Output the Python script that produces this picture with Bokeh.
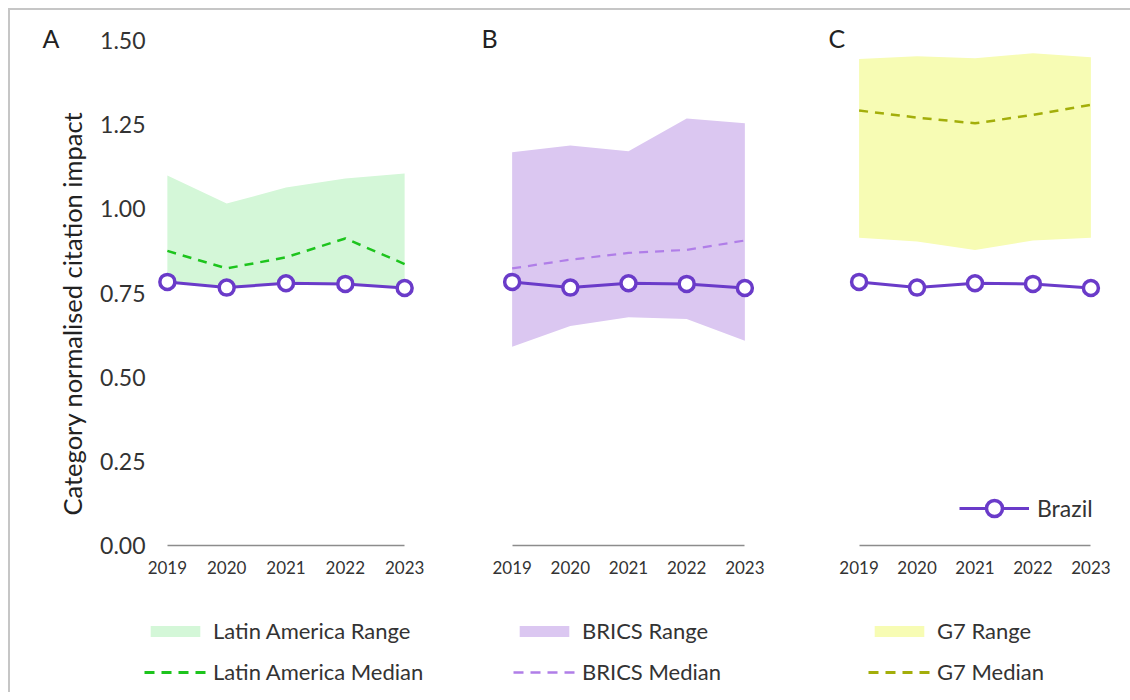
from bokeh.plotting import figure
from bokeh.layouts import row, column
from bokeh.models import (FixedTicker, Legend, LegendItem, Range1d,
                          NumeralTickFormatter, Title)
from bokeh.embed import file_html
from bokeh.resources import INLINE

# ---------------- data ----------------
years = [2019, 2020, 2021, 2022, 2023]
brazil = [0.783, 0.766, 0.779, 0.777, 0.765]

la_low = [0.780, 0.768, 0.778, 0.778, 0.765]
la_high = [1.099, 1.016, 1.063, 1.090, 1.105]
la_med = [0.875, 0.823, 0.856, 0.912, 0.836]

brics_low = [0.590, 0.652, 0.678, 0.673, 0.608]
brics_high = [1.168, 1.188, 1.171, 1.268, 1.254]
brics_med = [0.823, 0.849, 0.869, 0.878, 0.906]

g7_low = [0.914, 0.903, 0.878, 0.906, 0.914]
g7_high = [1.445, 1.453, 1.447, 1.462, 1.450]
g7_med = [1.292, 1.271, 1.254, 1.279, 1.309]

y_ticks = [0.0, 0.25, 0.5, 0.75, 1.0, 1.25, 1.5]
y_label = "Category normalised citation impact"
panel_letters = ["A", "B", "C"]
range_labels = ["Latin America Range", "BRICS Range", "G7 Range"]
median_labels = ["Latin America Median", "BRICS Median", "G7 Median"]

FONT = "Lato"
TXT = "#333333"
BRAZIL = "#6A3BC9"
FILLS = ["#D4F7D8", "#DBC7F1", "#F7FCB4"]
MED_COLORS = ["#1DC41D", "#B07EE8", "#A3AE0A"]
MED_WIDTHS = [2.5, 2.2, 2.5]
DASH = "9 7"


def panel(letter, letter_offset, width, mbl, mbr, low, high, med, fill,
          med_color, med_width, show_y=False, brazil_legend=False):
    p = figure(width=width, height=590,
               x_range=Range1d(2018.8, 2023.2), y_range=Range1d(0, 1.5),
               output_backend="svg", toolbar_location=None,
               min_border_left=mbl, min_border_right=mbr,
               min_border_top=30, min_border_bottom=55,
               y_axis_location="left" if show_y else None)
    p.outline_line_color = None
    p.xgrid.visible = False
    p.ygrid.visible = False
    p.border_fill_color = "white"

    p.title.text = letter
    p.title.align = "left"
    p.title.offset = letter_offset
    p.title.standoff = -25
    p.title.vertical_align = "bottom"
    p.title.text_font = FONT
    p.title.text_font_size = "25px"
    p.title.text_font_style = "normal"
    p.title.text_color = "#222222"

    xa = p.xaxis[0]
    xa.ticker = FixedTicker(ticks=years)
    xa.bounds = (2019, 2023)
    xa.axis_line_color = "#8c8c8c"
    xa.axis_line_width = 1.3
    xa.major_tick_line_color = None
    xa.minor_tick_line_color = None
    xa.major_tick_out = 0
    xa.minor_tick_out = 0
    xa.major_label_standoff = 15
    xa.major_label_text_font = FONT
    xa.major_label_text_font_size = "17px"
    xa.major_label_text_color = TXT

    if show_y:
        ya = p.yaxis[0]
        ya.ticker = FixedTicker(ticks=y_ticks)
        ya.formatter = NumeralTickFormatter(format="0.00")
        ya.axis_line_color = None
        ya.major_tick_line_color = None
        ya.minor_tick_line_color = None
        ya.major_tick_out = 0
        ya.minor_tick_out = 0
        ya.major_label_standoff = 10
        ya.major_label_text_font = FONT
        ya.major_label_text_font_size = "23px"
        ya.major_label_text_color = TXT
        # axis title, placed a little below the frame centre as in the source
        p.add_layout(Title(text=y_label, align="left", offset=30,
                           vertical_align="bottom", standoff=22,
                           text_font=FONT, text_font_size="25.5px",
                           text_font_style="normal", text_color="#222222"),
                     "left")

    p.varea(x=years, y1=low, y2=high, fill_color=fill, fill_alpha=1.0)
    p.line(x=years, y=med, line_color=med_color, line_width=med_width,
           line_dash=DASH)
    r_bl = p.line(x=years, y=brazil, line_color=BRAZIL, line_width=3)
    r_bm = p.scatter(x=years, y=brazil, size=15, marker="circle",
                     fill_color="white", line_color=BRAZIL, line_width=3.5)

    if brazil_legend:
        bl = Legend(items=[LegendItem(label="Brazil", renderers=[r_bl, r_bm])],
                    location=(112, 17), border_line_color=None,
                    background_fill_alpha=0, padding=0, margin=0,
                    glyph_width=70, glyph_height=40, label_height=40,
                    label_standoff=8, label_text_font=FONT,
                    label_text_font_size="23px", label_text_color=TXT)
        p.add_layout(bl)
    return p


pA = panel(panel_letters[0], -113, 431, 145, 25, la_low, la_high, la_med,
           FILLS[0], MED_COLORS[0], MED_WIDTHS[0], show_y=True)
pB = panel(panel_letters[1], -19, 350, 59, 35, brics_low, brics_high,
           brics_med, FILLS[1], MED_COLORS[1], MED_WIDTHS[1])
pC = panel(panel_letters[2], -19, 331, 56, 20, g7_low, g7_high, g7_med,
           FILLS[2], MED_COLORS[2], MED_WIDTHS[2], brazil_legend=True)

# ---------------- legend strip ----------------
lg = figure(width=1112, height=92, x_range=Range1d(0, 1), y_range=Range1d(0, 1),
            output_backend="svg", toolbar_location=None,
            x_axis_location=None, y_axis_location=None,
            min_border_left=0, min_border_right=0, min_border_top=0,
            min_border_bottom=0)
lg.outline_line_color = None
lg.xgrid.visible = False
lg.ygrid.visible = False

series = [(la_low, la_high, la_med), (brics_low, brics_high, brics_med),
          (g7_low, g7_high, g7_med)]
legend_x = [134, 503, 858]
for i, (lo, hi, md) in enumerate(series):
    # the same series, drawn outside this strip's ranges: only their keys show
    rr = lg.varea(x=years, y1=lo, y2=hi, fill_color=FILLS[i], fill_alpha=1.0)
    rm = lg.line(x=years, y=md, line_color=MED_COLORS[i],
                 line_width=MED_WIDTHS[i] + 0.3, line_dash="10 7")
    leg = Legend(items=[LegendItem(label=range_labels[i], renderers=[rr]),
                        LegendItem(label=median_labels[i], renderers=[rm])],
                 location=(legend_x[i], 7), orientation="vertical",
                 border_line_color=None, background_fill_alpha=0,
                 padding=0, margin=0, spacing=14,
                 glyph_width=62, glyph_height=14, label_height=26,
                 label_standoff=7, label_text_font=FONT,
                 label_text_font_size="22px", label_text_color=TXT)
    lg.add_layout(leg)

layout = column(row(pA, pB, pC), lg,
                styles={"border-top": "2px solid #c6c6c6",
                        "border-left": "2px solid #c6c6c6",
                        "margin-top": "8px", "margin-left": "8px",
                        "padding-right": "8px"})

open("out.html", "w").write(file_html(layout, INLINE))
